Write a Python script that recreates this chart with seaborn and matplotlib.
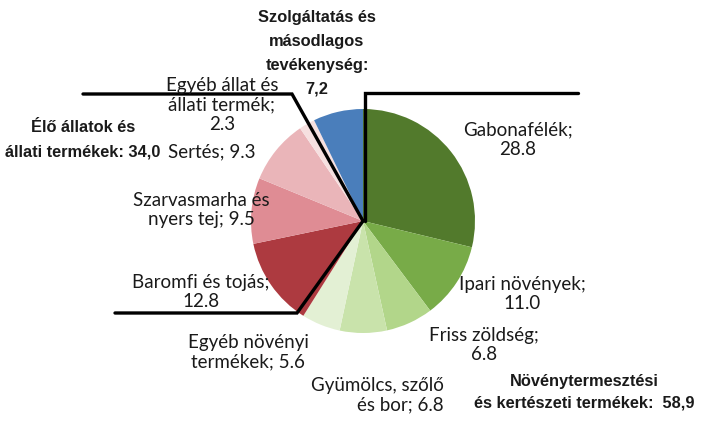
import matplotlib
matplotlib.use("Agg")
import matplotlib.pyplot as plt
import seaborn as sns

sns.set_theme(style="white")

categories = ["Gabonafélék", "Ipari növények", "Friss zöldség", "Gyümölcs, szőlő és bor",
              "Egyéb növényi termékek", "Baromfi és tojás", "Szarvasmarha és nyers tej",
              "Sertés", "Egyéb állat és állati termék", "Szolgáltatás és másodlagos tevékenység"]
values = [28.8, 11.0, 6.8, 6.8, 5.6, 12.8, 9.5, 9.3, 2.3, 7.2]
colors = ["#527a2c", "#78ab48", "#b2d68a", "#c9e3ab", "#e3f0d4",
          "#ad3a40", "#df8c94", "#eab5b9", "#f6e0e0", "#4a7ebb"]

W, H = 701, 425
fig = plt.figure(figsize=(W / 100, H / 100), dpi=100)
ax = fig.add_axes([0, 0, 1, 1])
ax.set_xlim(0, W)
ax.set_ylim(0, H)
ax.axis("off")

cx, cy, r = 363, H - 221, 112
ax.pie(values, colors=colors, startangle=90, counterclock=False,
       center=(cx, cy), radius=r, wedgeprops=dict(linewidth=0))
ax.set_xlim(0, W)
ax.set_ylim(0, H)
ax.set_aspect("equal")

def Y(y):
    return H - y

lw = 2.4
ax.plot([cx + 2, cx + 2, 578], [cy, Y(93), Y(93)], color="black", lw=lw, solid_joinstyle="miter")
ax.plot([83, 292, cx], [Y(94), Y(94), cy], color="black", lw=lw, solid_joinstyle="miter")
ax.plot([115, 297, cx], [Y(313), Y(313), cy], color="black", lw=lw, solid_joinstyle="miter")

reg = dict(family=["Lato", "DejaVu Sans"], fontsize=13.5, color="#1a1a1a", linespacing=1.2)
bold = dict(family=["Liberation Sans Narrow", "Liberation Sans", "DejaVu Sans"],
            fontsize=11.8, fontweight="bold", color="#1a1a1a")

ax.text(317, Y(53), "Szolgáltatás és\nmásodlagos\ntevékenység:\n7,2", ha="center", va="center",
        linespacing=1.75, **bold)
ax.text(222, Y(105), "Egyéb állat és\nállati termék;\n2.3", ha="center", va="center", **reg)
ax.text(212, Y(152), "Sertés; 9.3", ha="center", va="center", **reg)
ax.text(83, Y(140), "Élő állatok és\nállati termékek: 34,0", ha="center", va="center",
        linespacing=1.8, **bold)
ax.text(201, Y(210), "Szarvasmarha és\nnyers tej; 9.5", ha="center", va="center", **reg)
ax.text(201, Y(292), "Baromfi és tojás;\n12.8", ha="center", va="center", **reg)
ax.text(248, Y(352), "Egyéb növényi\ntermékek; 5.6", ha="center", va="center", **reg)
ax.text(444, Y(395), "Gyümölcs, szőlő\nés bor; 6.8", ha="right", va="center", multialignment="right", **reg)
ax.text(518, Y(140), "Gabonafélék;\n28.8", ha="center", va="center", **reg)
ax.text(522, Y(294), "Ipari növények;\n11.0", ha="center", va="center", **reg)
ax.text(484, Y(345), "Friss zöldség;\n6.8", ha="center", va="center", **reg)
ax.text(584, Y(392), "Növénytermesztési\nés kertészeti termékek:  58,9", ha="center", va="center",
        linespacing=1.55, **bold)

fig.savefig("out.png", dpi=100)
